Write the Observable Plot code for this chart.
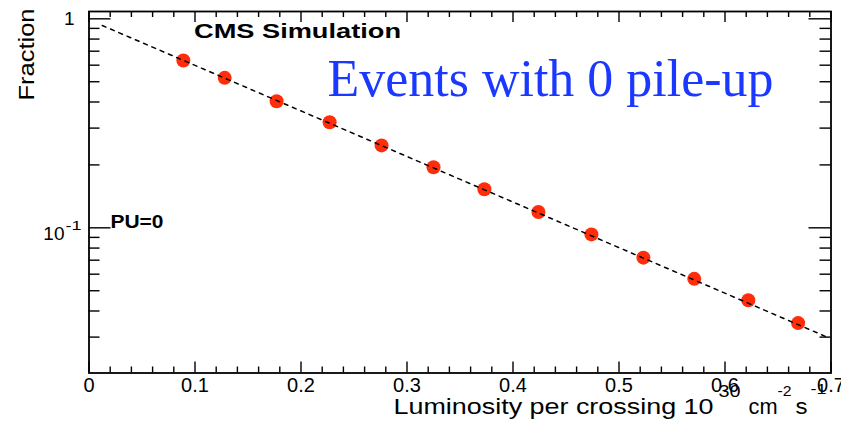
<!DOCTYPE html>
<html>
<head>
<meta charset="utf-8">
<script src="https://cdn.jsdelivr.net/npm/d3@7"></script>
<script src="https://cdn.jsdelivr.net/npm/@observablehq/plot@0.6"></script>
<style>
  body { margin: 0; background: #fff; }
</style>
</head>
<body>
<div id="chart"></div>
<script>
// Luminosity per crossing (10^30 cm^-2 s^-1) of each simulated sample
const luminosity = [0.089, 0.128, 0.177, 0.227, 0.276, 0.325, 0.373, 0.424, 0.474, 0.523, 0.571, 0.622, 0.669];
// Fraction of events with no pile-up interaction
const fraction = [0.632, 0.522, 0.403, 0.320, 0.248, 0.195, 0.153, 0.119, 0.093, 0.072, 0.057, 0.045, 0.035];
// Exponential fit, a straight line on the log axis: its two end points
const fitLuminosity = [0.0125, 0.695];
const fitFraction = [0.929, 0.0302];

// Axis ticks
const xMajor = [0, 0.1, 0.2, 0.3, 0.4, 0.5, 0.6, 0.7];
const xMajorLabels = ["0", "0.1", "0.2", "0.3", "0.4", "0.5", "0.6", "0.7"];
const xMinor = [0.02, 0.04, 0.06, 0.08, 0.12, 0.14, 0.16, 0.18, 0.22, 0.24, 0.26, 0.28,
                0.32, 0.34, 0.36, 0.38, 0.42, 0.44, 0.46, 0.48, 0.52, 0.54, 0.56, 0.58,
                0.62, 0.64, 0.66, 0.68];
const yMajor = [0.1, 1];
const yMinor = [0.03, 0.04, 0.05, 0.06, 0.07, 0.08, 0.09, 0.2, 0.3, 0.4, 0.5, 0.6, 0.7, 0.8, 0.9];

const points = luminosity.map((x, i) => ({x, y: fraction[i]}));
const fit = fitLuminosity.map((x, i) => ({x, y: fitFraction[i]}));

const W = 841, H = 421;
const mL = 88.5, mR = 10.5, mT = 11, mB = 48.5;
const FW = W - mL - mR, FH = H - mT - mB;

const sans = "'Liberation Sans', Arial, Helvetica, sans-serif";
const serif = "'Liberation Serif', 'Times New Roman', serif";

// Widths (px) used to stretch the ROOT-style labels
const stretch = new Map();
function label(str, o) {
  if (o.length) stretch.set(str, o.length);
  return Plot.text([str], {
    text: d => d,
    frameAnchor: o.anchor ?? "top-left",
    dx: o.dx, dy: o.dy,
    fontSize: o.size,
    fontWeight: o.weight ?? "normal",
    fontFamily: o.family ?? sans,
    fill: o.fill ?? "black",
    textAnchor: o.textAnchor ?? "start",
    lineAnchor: "bottom",
    rotate: o.rotate ?? 0
  });
}

const tick = {stroke: "black", strokeWidth: 1.4};

const chart = Plot.plot({
  width: W, height: H,
  marginLeft: mL, marginRight: mR, marginTop: mT, marginBottom: mB,
  x: {domain: [0, 0.7]},
  y: {type: "log", domain: [0.0202, 1.084]},
  style: {fontFamily: sans, color: "black", background: "white"},
  marks: [
    // tick marks drawn inside the frame on all four sides
    Plot.ruleX(xMajor, {x: d => d, insetTop: FH - 11, ...tick}),
    Plot.ruleX(xMajor, {x: d => d, insetBottom: FH - 11, ...tick}),
    Plot.ruleX(xMinor, {x: d => d, insetTop: FH - 6, ...tick}),
    Plot.ruleX(xMinor, {x: d => d, insetBottom: FH - 6, ...tick}),
    Plot.ruleY(yMajor, {y: d => d, insetRight: FW - 22, ...tick}),
    Plot.ruleY(yMajor, {y: d => d, insetLeft: FW - 22, ...tick}),
    Plot.ruleY(yMinor, {y: d => d, insetRight: FW - 11, ...tick}),
    Plot.ruleY(yMinor, {y: d => d, insetLeft: FW - 11, ...tick}),
    Plot.frame({stroke: "black", strokeWidth: 1.8}),

    Plot.axisX({ticks: xMajor, tickSize: 0, tickPadding: 5, fontSize: 20, label: null,
                tickFormat: d => xMajorLabels[xMajor.indexOf(d)]}),
    Plot.axisY({ticks: [1], tickSize: 0, tickPadding: 14.5, fontSize: 19, label: null,
                tickFormat: () => "1"}),
    Plot.text([0.1], {y: d => d, frameAnchor: "left", textAnchor: "end", dx: -24.5, dy: 6,
                      fontSize: 19, text: () => "10"}),
    Plot.text([0.1], {y: d => d, frameAnchor: "left", textAnchor: "start", dx: -23.5, dy: -2,
                      fontSize: 13, text: () => "-1"}),

    // simulated fractions and the exponential fit through them
    Plot.dot(points, {x: "x", y: "y", r: 7, fill: "#ff2d0a", stroke: "none"}),
    Plot.line(fit, {x: "x", y: "y", stroke: "black", strokeWidth: 1.5, strokeDasharray: "4,5"}),

    // annotations
    label("CMS Simulation", {dx: 105, dy: 26, size: 21, weight: "bold", length: 207}),
    label("Events with 0 pile-up", {dx: 238.5, dy: 84, size: 52, family: serif, fill: "#1a38ff", length: 446}),
    label("PU=0", {dx: 21.5, dy: 216, size: 18, weight: "bold", length: 53}),

    // axis titles
    label("Fraction", {dx: -55.5, dy: -3, size: 22, rotate: -90, textAnchor: "end", length: 92}),
    label("Luminosity per crossing 10", {anchor: "bottom-left", dx: 304.5, dy: 40.5, size: 22, length: 320}),
    label("30", {anchor: "bottom-left", dx: 629.5, dy: 23.5, size: 16, length: 22}),
    label("cm", {anchor: "bottom-left", dx: 659.5, dy: 40.5, size: 22, length: 29}),
    label("-2", {anchor: "bottom-left", dx: 688.5, dy: 22.5, size: 14, length: 14}),
    label("s", {anchor: "bottom-left", dx: 706.5, dy: 40.5, size: 22, length: 12}),
    label("-1", {anchor: "bottom-left", dx: 721.5, dy: 20.5, size: 14, length: 16})
  ]
});

// ROOT draws its labels wider than the font's natural advance
d3.select(chart).selectAll("text").each(function () {
  const len = stretch.get(this.textContent);
  if (len) d3.select(this).attr("textLength", len).attr("lengthAdjust", "spacingAndGlyphs");
});

document.getElementById("chart").appendChild(chart);
</script>
</body>
</html>
